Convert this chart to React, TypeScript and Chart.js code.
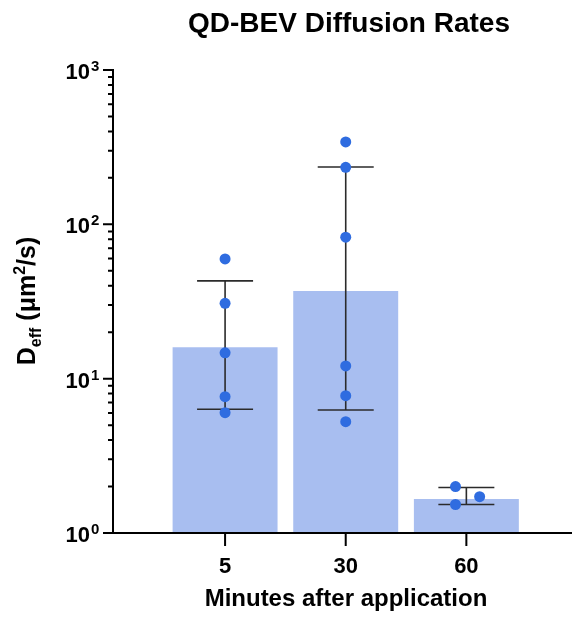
import React, { useEffect, useRef } from "react";
import { Chart, registerables } from "chart.js";

Chart.register(...registerables);

const title = "QD-BEV Diffusion Rates";
const xTitle = "Minutes after application";
const categories = ["5", "30", "60"];
const barMeans = [16.0, 37, 1.66];
const errLow = [6.33, 6.27, 1.53];
const errHigh = [43, 235, 1.97];
const points5 = [59.7, 30.8, 14.7, 7.64, 6.02];
const points30 = [342, 234, 82.5, 12.1, 7.76, 5.26];
const points60 = [2.0, 1.53, 1.72];
const jitter5 = [0, 0, 0, 0, 0];
const jitter30 = [0, 0, 0, 0, 0, 0];
const jitter60 = [-0.09, -0.09, 0.11];
const yDecades = [0, 1, 2, 3];

const FONT = '"Liberation Sans", Arial, Helvetica, sans-serif';
const BAR_COLOR = "#a8bef0";
const POINT_COLOR = "#2f6ce0";
const ERR_COLOR = "#2b2b2b";

const decorPlugin = {
  id: "decor",
  afterDatasetDraw(chart: any, args: any) {
    if (args.index !== 0) return;
    const ctx = chart.ctx;
    const xs = chart.scales.x;
    const ys = chart.scales.y;
    ctx.save();
    ctx.strokeStyle = ERR_COLOR;
    ctx.lineWidth = 1.6;
    for (let i = 0; i < categories.length; i++) {
      const x = xs.getPixelForValue(i);
      const yl = ys.getPixelForValue(errLow[i]);
      const yh = ys.getPixelForValue(errHigh[i]);
      ctx.beginPath();
      ctx.moveTo(x, yl);
      ctx.lineTo(x, yh);
      ctx.moveTo(x - 28, yl);
      ctx.lineTo(x + 28, yl);
      ctx.moveTo(x - 28, yh);
      ctx.lineTo(x + 28, yh);
      ctx.stroke();
    }
    ctx.restore();
  },
  afterDraw(chart: any) {
    const ctx = chart.ctx;
    const xs = chart.scales.x;
    const ys = chart.scales.y;
    const area = chart.chartArea;
    ctx.save();
    ctx.strokeStyle = "#000";
    ctx.fillStyle = "#000";
    ctx.lineWidth = 2;
    ctx.beginPath();
    ctx.moveTo(area.left, area.top - 1);
    ctx.lineTo(area.left, area.bottom + 1);
    ctx.moveTo(area.left - 1, area.bottom);
    ctx.lineTo(chart.width, area.bottom);
    ctx.stroke();
    ctx.beginPath();
    for (const d of yDecades) {
      const base = Math.pow(10, d);
      const y = ys.getPixelForValue(base);
      ctx.moveTo(area.left - 10, y);
      ctx.lineTo(area.left, y);
      if (d < 3) {
        for (let k = 2; k <= 9; k++) {
          const ym = ys.getPixelForValue(k * base);
          ctx.moveTo(area.left - 5, ym);
          ctx.lineTo(area.left, ym);
        }
      }
    }
    for (let i = 0; i < categories.length; i++) {
      const x = xs.getPixelForValue(i);
      ctx.moveTo(x, area.bottom);
      ctx.lineTo(x, area.bottom + 13);
    }
    ctx.stroke();
    for (const d of yDecades) {
      const y = ys.getPixelForValue(Math.pow(10, d));
      ctx.font = `bold 22px ${FONT}`;
      ctx.textAlign = "right";
      ctx.textBaseline = "alphabetic";
      ctx.fillText("10", 90, y + 9);
      ctx.font = `bold 15px ${FONT}`;
      ctx.textAlign = "left";
      ctx.fillText(String(d), 91, y + 1);
    }
    ctx.font = `bold 22px ${FONT}`;
    ctx.textAlign = "center";
    for (let i = 0; i < categories.length; i++) {
      ctx.fillText(categories[i], xs.getPixelForValue(i), area.bottom + 40);
    }
    ctx.font = `bold 24px ${FONT}`;
    ctx.fillText(xTitle, 346, 606);
    ctx.font = `bold 28px ${FONT}`;
    ctx.fillText(title, 349, 32);
    const parts = [
      { t: "D", size: 25, dy: 0 },
      { t: "eff", size: 16, dy: 6 },
      { t: " (μm", size: 25, dy: 0 },
      { t: "2", size: 16, dy: -10 },
      { t: "/s)", size: 25, dy: 0 },
    ];
    let total = 0;
    for (const p of parts) {
      ctx.font = `bold ${p.size}px ${FONT}`;
      total += ctx.measureText(p.t).width;
    }
    const cy = 301;
    ctx.translate(35, cy + total / 2);
    ctx.rotate(-Math.PI / 2);
    ctx.textAlign = "left";
    let cx = 0;
    for (const p of parts) {
      ctx.font = `bold ${p.size}px ${FONT}`;
      ctx.fillText(p.t, cx, p.dy);
      cx += ctx.measureText(p.t).width;
    }
    ctx.restore();
  },
};

export default function App() {
  const ref = useRef<HTMLCanvasElement | null>(null);
  useEffect(() => {
    document.body.style.margin = "0";
    if (!ref.current) return;
    const scatterData: { x: number; y: number }[] = [];
    points5.forEach((v, j) => scatterData.push({ x: 0 + jitter5[j], y: v }));
    points30.forEach((v, j) => scatterData.push({ x: 1 + jitter30[j], y: v }));
    points60.forEach((v, j) => scatterData.push({ x: 2 + jitter60[j], y: v }));
    const chart = new Chart(ref.current, {
      type: "bar",
      data: {
        datasets: [
          {
            type: "bar",
            data: barMeans.map((v, i) => ({ x: i, y: v })),
            backgroundColor: BAR_COLOR,
            borderWidth: 0,
            barPercentage: 1,
            categoryPercentage: 0.87,
            order: 2,
          } as any,
          {
            type: "scatter",
            data: scatterData,
            backgroundColor: POINT_COLOR,
            borderWidth: 0,
            pointRadius: 5.5,
            showLine: false,
            order: 1,
          } as any,
        ],
      },
      options: {
        responsive: false,
        animation: false,
        layout: { padding: { left: 113, top: 70, right: 0, bottom: 84 } },
        plugins: {
          legend: { display: false },
          tooltip: { enabled: false },
          title: { display: false },
        },
        scales: {
          x: {
            type: "linear",
            display: false,
            offset: false,
            min: -0.929,
            max: 2.83,
            afterBuildTicks: (scale: any) => {
              scale.ticks = categories.map((_, i) => ({ value: i }));
            },
          },
          y: { type: "logarithmic", display: false, min: 1, max: 1000 },
        },
      },
      plugins: [decorPlugin],
    });
    return () => chart.destroy();
  }, []);
  return <canvas ref={ref} width={572} height={617} style={{ display: "block" }} />;
}
